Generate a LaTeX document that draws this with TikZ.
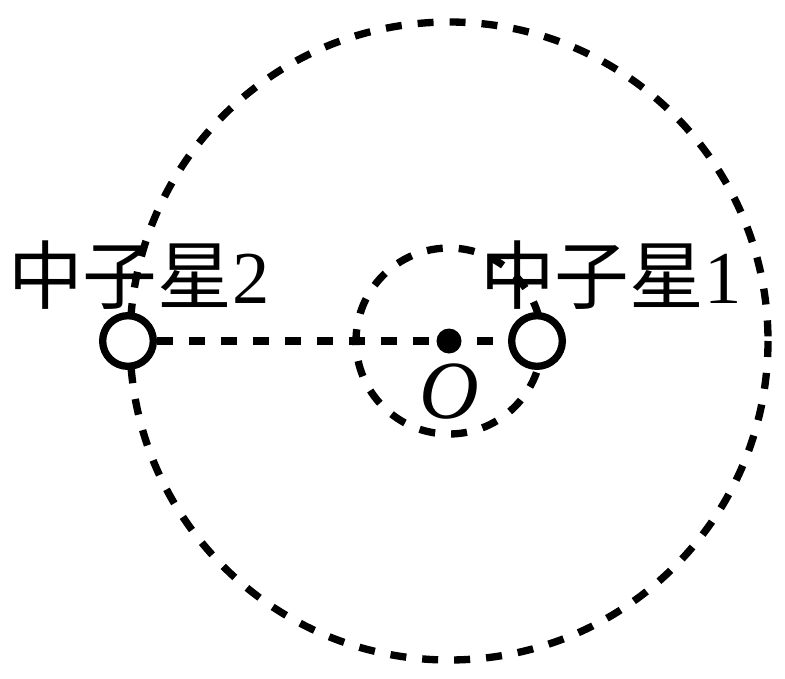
\documentclass[tikz,border=0pt]{standalone}
\usepackage{fontspec}
\setmainfont{Liberation Serif}
\newfontfamily\cjk{Noto Sans CJK SC}[FakeBold=0]
\begin{document}
\begin{tikzpicture}[x=0.75pt,y=-0.75pt,
  orbit/.style={line width=5.5pt,dash pattern=on 12pt off 12pt},
  star/.style={circle,draw,fill=white,line width=5.5pt,inner sep=0pt,minimum size=38pt},
  lbl/.style={font=\fontsize{56}{60}\selectfont,inner sep=0pt,anchor=base west}]
\useasboundingbox (0,0) rectangle (785,678);
\coordinate (O) at (449,341);
\draw[orbit] (O) circle[radius=319];
\draw[orbit] (O) circle[radius=93];
\node[star] (s2) at (128,341) {};
\node[star] (s1) at (537,341) {};
\draw[orbit] (s2) -- (s1);
\fill (O) circle[radius=12.5];
\node[font=\fontsize{62}{66}\selectfont\itshape,inner sep=0pt] (olbl) at (449,392) {O};
\node[lbl] (l2) at (8,303) {{\cjk 中子星}2};
\node[lbl] (l1) at (480,303) {{\cjk 中子星}1};
\end{tikzpicture}
\end{document}
